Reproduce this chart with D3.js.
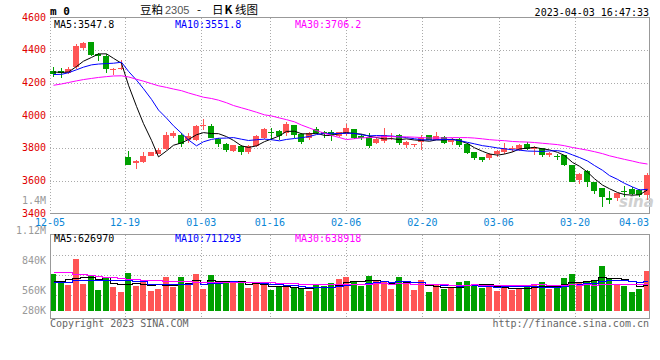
<!DOCTYPE html>
<html><head><meta charset="utf-8">
<script src="https://cdn.jsdelivr.net/npm/d3@7"></script>
<style>
body{margin:0;background:#fff}
svg{display:block}
text{font-family:"DejaVu Sans Mono",monospace;font-size:10px}
</style>
</head><body>
<svg id="c" width="660" height="360"></svg>
<script>
// ---------- data ----------
const dates = [
 "12-05","12-06","12-07","12-08","12-09","12-12","12-13","12-14","12-15","12-16",
 "12-19","12-20","12-21","12-22","12-23","12-26","12-27","12-28","12-29","12-30",
 "01-03","01-04","01-05","01-06","01-09","01-10","01-11","01-12","01-13","01-16",
 "01-17","01-18","01-19","01-20","01-30","01-31","02-01","02-02","02-03","02-06",
 "02-07","02-08","02-09","02-10","02-13","02-14","02-15","02-16","02-17","02-20",
 "02-21","02-22","02-23","02-24","02-27","02-28","03-01","03-02","03-03","03-06",
 "03-07","03-08","03-09","03-10","03-13","03-14","03-15","03-16","03-17","03-20",
 "03-21","03-22","03-23","03-24","03-27","03-28","03-29","03-30","03-31","04-03"];
const open = [
 4275,4270,4258,4294,4416,4448,4375,4363,4283,4285,
 3747,3712,3714,3755,3767,3792,3873,3883,3849,3849,
 3934,3938,3859,3828,3781,3814,3775,3812,3863,3900,
 3904,3890,3940,3885,3865,3920,3900,3900,3873,3885,
 3918,3873,3869,3832,3845,3869,3879,3822,3818,3840,
 3879,3853,3869,3836,3855,3828,3777,3746,3740,3763,
 3777,3796,3787,3824,3792,3798,3761,3751,3757,3700,
 3604,3661,3594,3557,3492,3496,3540,3549,3543,3512];
const close = [
 4255,4258,4282,4424,4444,4369,4367,4283,4287,4293,
 3696,3720,3755,3775,3787,3879,3893,3828,3877,3934,
 3944,3865,3824,3787,3818,3777,3816,3873,3916,3898,
 3875,3951,3879,3838,3894,3894,3885,3879,3898,3922,
 3865,3865,3814,3859,3879,3877,3832,3838,3824,3865,
 3853,3873,3834,3849,3818,3771,3740,3726,3767,3783,
 3804,3804,3818,3792,3808,3757,3773,3743,3696,3594,
 3641,3594,3539,3502,3482,3526,3530,3522,3512,3634];
const high = [
 4300,4288,4294,4436,4448,4449,4383,4375,4292,4342,
 3781,3726,3775,3777,3804,3900,3906,3890,3890,3940,
 3979,3946,3865,3832,3822,3822,3820,3879,3924,3924,
 3914,3961,3940,3890,3900,3930,3904,3910,3900,3945,
 3918,3885,3894,3869,3924,3890,3885,3843,3828,3880,
 3883,3900,3873,3863,3863,3832,3777,3746,3771,3787,
 3832,3812,3828,3838,3812,3804,3777,3767,3761,3700,
 3645,3665,3594,3557,3536,3526,3567,3563,3547,3651];
const low = [
 4235,4230,4253,4287,4400,4367,4334,4261,4247,4281,
 3696,3675,3710,3751,3767,3787,3865,3808,3832,3845,
 3910,3861,3808,3777,3777,3757,3763,3808,3859,3849,
 3849,3873,3865,3828,3849,3885,3865,3845,3869,3877,
 3859,3849,3804,3828,3832,3849,3822,3798,3808,3788,
 3849,3849,3828,3822,3808,3767,3726,3716,3726,3747,
 3767,3777,3783,3787,3757,3747,3747,3730,3690,3592,
 3583,3563,3522,3440,3461,3477,3502,3512,3502,3481];
const volume = [
 881000,720000,617000,1241000,641000,857000,497000,816000,569000,456000,
 912000,593000,696000,473000,521000,809000,576000,809000,658000,881000,
 521000,857000,634000,713000,682000,658000,552000,696000,617000,497000,
 569000,600000,576000,514000,480000,641000,600000,672000,761000,809000,
 713000,600000,833000,737000,713000,521000,809000,658000,497000,737000,
 449000,617000,521000,576000,689000,713000,641000,552000,600000,473000,
 600000,497000,552000,617000,617000,689000,521000,600000,785000,881000,
 658000,713000,713000,1073000,785000,617000,600000,456000,521000,953000];
const ma5Head  = [4266,4264,4266,4300];
const ma10Head = [4251,4252,4262,4280,4296,4310,4315,4318,4320];
const ma30Head = [4185,4193,4202,4212,4220,4227,4233,4238,4242,4243,
                  4236,4222,4210,4195,4182,4172,4162,4152,4138,4124,
                  4112,4104,4094,4078,4061,4047,4035,4020,4004];
const vma5Head  = [713000,713000,760000,800000];
const vma10Head = [696000,696000,705000,737000,737000,737000,737000,740000,740000];
const vma30Head = [922000,922000,922000,890000,880000,855000,835000,818000,802000,787000,
                   765000,755000,747000,738000,731000,726000,721000,712000,706000,703000,
                   700000,697000,695000,694000,693000,692000,691000,690000,689000];
const priceMALegend = ["3547.8","3551.8","3706.2"];
const volMALegend = ["626970","711293","638918"];
const priceTicks = [3400,3600,3800,4000,4200,4400,4600];
const volTickValues = [1400000,1120000,840000,560000,280000];
const volTickLabels = ["1.4M","1.12M","840K","560K","280K"];
const dateTicks = ["12-05","12-19","01-03","01-16","02-06","02-20","03-06","03-20","04-03"];
const titleParts = ["豆粕","2305","-","日","K","线图"];

// ---------- layout ----------
const svg = d3.select("#c");
const L = 50, R = 649.5, PT = 17.5, PB = 213.5, VT = 234.5, VB = 318.5;
const RED = "#ff5555", GREEN = "#00a000", GRID = "#aaa", FRAME = "#999";
const maColors = ["#000000", "#0000ff", "#ff00ff"];
const n = dates.length;

const x = d3.scaleBand().domain(d3.range(n)).range([50, 650]).paddingInner(0.2).paddingOuter(0);
const cx = i => Math.round(x(i) + x.bandwidth() / 2) + 0.5;
const gx = d3.scaleLinear().domain([0, n - 1]).range([48.7, 651.2]);
const yP = d3.scaleLinear().domain([3400, 4600]).range([PB, PT]);
const yV = d3.scaleLinear().domain([0, 1745000]).range([311, 238]);
const yVL = d3.scaleLinear().domain([560000, 1400000]).range([291, 200.7]);

function ma(vals, k, head) {
  return vals.map((v, i) => i < k - 1 ? head[i] : d3.mean(vals.slice(i - k + 1, i + 1)));
}
const pMA = [ma(close, 5, ma5Head), ma(close, 10, ma10Head), ma(close, 30, ma30Head)];
const vMA = [ma(volume, 5, vma5Head), ma(volume, 10, vma10Head), ma(volume, 30, vma30Head)];

// ---------- header ----------
svg.append("text").attr("x", 50).attr("y", 15).style("font-size", "11px").style("font-weight", "bold").text("m 0");
const titleX = [140, 165, 197, 212, 224.5, 235];
const title = svg.append("text").attr("y", 13.5)
  .style("font-family", '"Noto Sans CJK SC", sans-serif').style("font-size", "11.5px");
titleParts.forEach((t, k) => {
  const ts = title.append("tspan").attr("x", titleX[k]).text(t);
  if (k === 1) ts.attr("fill", "#555").style("font-family", '"Liberation Sans", sans-serif').style("font-size", "11px");
  if (k === 4) ts.style("font-weight", "bold");
});
svg.append("text").attr("x", 649).attr("y", 15.5).attr("text-anchor", "end").text("2023-04-03 16:47:33");

// ---------- price panel ----------
const gridTickIdx = dateTicks.map(d => dates.indexOf(d)).filter(i => i > 0 && i < n - 1);
const gp = svg.append("g").attr("shape-rendering", "crispEdges");
gp.selectAll("line.h").data(priceTicks.slice(1, -1)).join("line")
  .attr("x1", L).attr("x2", R).attr("y1", d => Math.round(yP(d)) + 0.5).attr("y2", d => Math.round(yP(d)) + 0.5)
  .attr("stroke", GRID).attr("stroke-dasharray", "1,2");
gp.selectAll("line.v").data(gridTickIdx).join("line")
  .attr("x1", i => Math.round(gx(i)) + 0.5).attr("x2", i => Math.round(gx(i)) + 0.5)
  .attr("y1", PT).attr("y2", PB).attr("stroke", GRID).attr("stroke-dasharray", "1,2");
gp.append("line").attr("x1", L + 0.5).attr("x2", L + 0.5).attr("y1", PT).attr("y2", PB)
  .attr("stroke", GRID).attr("stroke-dasharray", "1,2");
gp.append("path").attr("d", `M${L},${PT}H${R}V${PB}H${L}`).attr("fill", "none").attr("stroke", FRAME);

// watermark
svg.append("text").attr("x", 619).attr("y", 207).style("font-family", '"DejaVu Sans", sans-serif')
  .style("font-size", "15px").style("font-style", "italic").style("font-weight", "bold")
  .attr("fill", "#d0d0d0").text("sina");

// candles
const cg = svg.append("g").attr("shape-rendering", "crispEdges");
d3.range(n).forEach(i => {
  const up = close[i] >= open[i];
  const col = up ? RED : GREEN;
  cg.append("line").attr("x1", cx(i)).attr("x2", cx(i))
    .attr("y1", Math.round(yP(high[i]))).attr("y2", Math.round(yP(low[i])))
    .attr("stroke", col);
  const top = Math.round(yP(Math.max(open[i], close[i])));
  const bot = Math.round(yP(Math.min(open[i], close[i])));
  cg.append("rect").attr("x", Math.round(x(i))).attr("width", Math.round(x.bandwidth()))
    .attr("y", top).attr("height", Math.max(1, bot - top)).attr("fill", col);
});

// price MAs
const lineP = d3.line().x((d, i) => cx(i)).y(d => yP(d));
pMA.forEach((arr, k) => {
  svg.append("path").attr("d", lineP(arr)).attr("fill", "none").attr("stroke", maColors[k]).attr("stroke-width", 1);
});

// price legend
["MA5:", "MA10:", "MA30:"].forEach((lab, k) => {
  svg.append("text").attr("x", [54, 175, 295][k]).attr("y", 27.5).attr("fill", maColors[k]).text(lab + priceMALegend[k]);
});

// price axis labels
svg.selectAll("text.pt").data(priceTicks).join("text")
  .attr("x", 46).attr("y", d => yP(d) + 3.3).attr("text-anchor", "end").attr("fill", "#e00000")
  .text(d => d);

// date labels
svg.selectAll("text.dt").data(dateTicks).join("text")
  .attr("x", d => { const i = dates.indexOf(d); return i === n - 1 ? 649 : Math.max(gx(i), 50); })
  .attr("y", 225.8).attr("text-anchor", d => dates.indexOf(d) === n - 1 ? "end" : "middle")
  .attr("fill", "#0a86d6").text(d => d);

// ---------- volume panel ----------
const gv = svg.append("g").attr("shape-rendering", "crispEdges");
gv.selectAll("line.h").data([255, 275, 295]).join("line")
  .attr("x1", L).attr("x2", R).attr("y1", d => d + 0.5).attr("y2", d => d + 0.5)
  .attr("stroke", GRID).attr("stroke-dasharray", "1,2");
gv.selectAll("line.v").data(gridTickIdx).join("line")
  .attr("x1", i => Math.round(gx(i)) + 0.5).attr("x2", i => Math.round(gx(i)) + 0.5)
  .attr("y1", VT).attr("y2", VB).attr("stroke", GRID).attr("stroke-dasharray", "1,2");

gv.selectAll("rect.vb").data(volume).join("rect")
  .attr("x", (d, i) => Math.round(x(i))).attr("width", Math.round(x.bandwidth()))
  .attr("y", d => Math.round(yV(d))).attr("height", d => yV(0) - Math.round(yV(d)))
  .attr("fill", (d, i) => close[i] >= open[i] ? RED : GREEN);

const lineV = d3.line().x((d, i) => cx(i)).y(d => Math.round(yV(d)) + 0.5).curve(d3.curveStep);
vMA.forEach((arr, k) => {
  svg.append("path").attr("d", lineV(arr)).attr("fill", "none").attr("stroke", maColors[k])
    .attr("stroke-width", 1).attr("shape-rendering", "crispEdges");
});

gv.append("rect").attr("x", L).attr("y", VT).attr("width", R - L).attr("height", VB - VT)
  .attr("fill", "none").attr("stroke", FRAME);

["MA5:", "MA10:", "MA30:"].forEach((lab, k) => {
  svg.append("text").attr("x", [54, 175, 295][k]).attr("y", 241.8).attr("fill", maColors[k]).text(lab + volMALegend[k]);
});

svg.selectAll("text.vt").data(volTickValues).join("text")
  .attr("x", 46).attr("y", d => Math.min(yVL(d), 310.7) + 3.3).attr("text-anchor", "end")
  .attr("fill", "#999").text((d, i) => volTickLabels[i]);

// footer
svg.append("text").attr("x", 50).attr("y", 327).attr("fill", "#666").text("Copyright 2023 SINA.COM");
svg.append("text").attr("x", 649).attr("y", 327).attr("text-anchor", "end").attr("fill", "#666").text("http://finance.sina.com.cn");
</script>
</body></html>
